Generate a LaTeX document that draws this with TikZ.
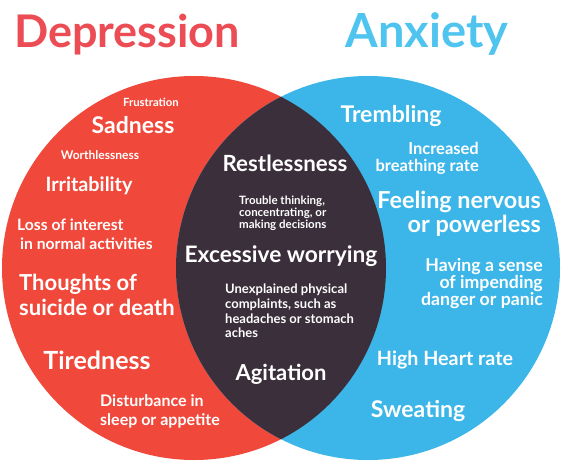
\documentclass[tikz,border=0pt]{standalone}
\usepackage{fontspec}
\setmainfont{Lato}
\definecolor{redc}{RGB}{240,72,58}
\definecolor{bluec}{RGB}{60,182,232}
\definecolor{darkc}{RGB}{58,47,58}
\definecolor{redt}{RGB}{236,76,84}
\definecolor{bluet}{RGB}{78,196,238}
\tikzset{
  lbl/.style={text=white, font=\bfseries\fontsize{#1}{#1}\selectfont, inner sep=0pt},
  ml/.style 2 args={text=white, font=\bfseries\fontsize{#1}{#2}\selectfont, inner sep=0pt, align=left},
}
\begin{document}
\begin{tikzpicture}[x=1pt,y=-1pt]
\useasboundingbox (0,0) rectangle (562,464);
\fill[white] (0,0) rectangle (562,464);
\path[fill=redc] (194,268) circle (192);
\path[fill=bluec] (368,268) circle (192);
\begin{scope}
\clip (194,268) circle (192);
\fill[darkc] (368,268) circle (192);
\end{scope}
% titles
\node[inner sep=0pt, text=redt, font=\bfseries\fontsize{45}{45}\selectfont, anchor=base] (tdep) at (127,47) {Depression};
\node[inner sep=0pt, text=bluet, font=\bfseries\fontsize{47}{47}\selectfont, anchor=base] (tanx) at (427,47) {Anxiety};
% depression
\node[lbl=11.3] (frus) at (151,102) {Frustration};
\node[lbl=23] (sad) at (133,125) {Sadness};
\node[lbl=12] (worth) at (100,155) {Worthlessness};
\node[lbl=19.8] (irr) at (89,186) {Irritability};
\node[ml={15.7}{19}, anchor=west] (loss) at (17,234.5) {Loss of interest\\\hspace{3pt}in normal activities};
\node[ml={22}{25}, anchor=west] (sui) at (19,295) {Thoughts of\\suicide or death};
\node[lbl=25] (tired) at (97,360) {Tiredness};
\node[ml={16}{19}, anchor=west] (dist) at (100,411.5) {Disturbance in\\sleep or appetite};
% middle
\node[lbl=22.3] (rest) at (285,163) {Restlessness};
\node[ml={11.5}{12}, anchor=west] (trouble) at (239,213) {Trouble thinking,\\concentrating, or\\making decisions};
\node[lbl=22.7] (worry) at (281,256) {Excessive worrying};
\node[ml={13}{14.7}, anchor=west] (unexp) at (225,311) {Unexplained physical\\complaints, such as\\headaches or stomach\\aches};
\node[lbl=22] (agit) at (281,374) {Agitation};
% anxiety
\node[lbl=23] (tremb) at (391,116) {Trembling};
\node[ml={16.5}{17}, align=right, anchor=east] (breath) at (479,158) {Increased\\breathing rate};
\node[ml={23.4}{24}, align=right, anchor=east] (nerv) at (541,214) {Feeling nervous\\or powerless};
\node[ml={17.7}{17}, align=right, anchor=east] (sense) at (543,284) {Having a sense\\of impending\\danger or panic};
\node[lbl=19.7] (heart) at (445,360) {High Heart rate};
\node[lbl=23] (sweat) at (418,411) {Sweating};
\end{tikzpicture}
\end{document}
